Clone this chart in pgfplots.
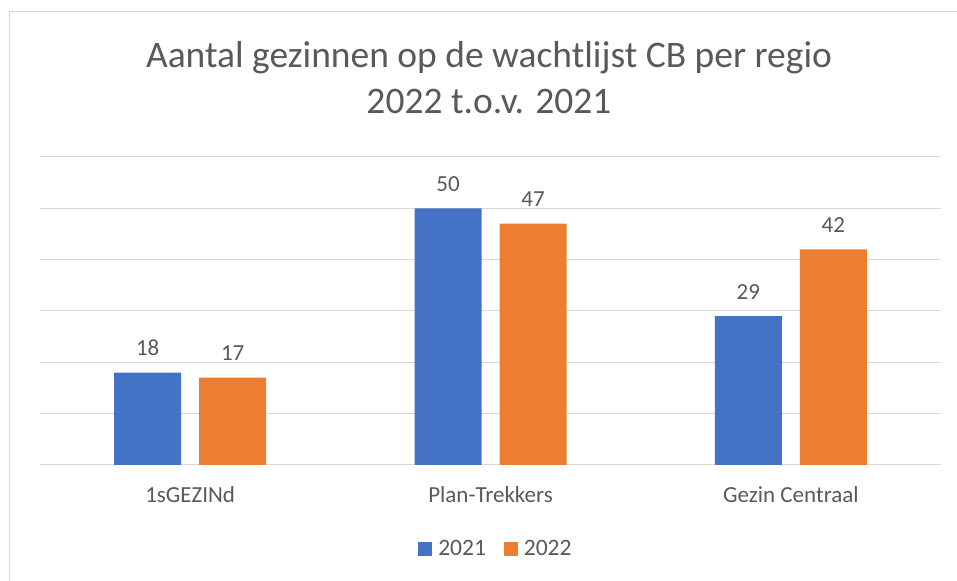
\documentclass[border=0pt]{standalone}
\usepackage{pgfplots}
\pgfplotsset{compat=1.18}
\usepackage{fontspec}
\setmainfont{Carlito}
\definecolor{txt}{HTML}{595959}
\definecolor{gridc}{HTML}{D9D9D9}
\definecolor{cblue}{HTML}{4472C4}
\definecolor{corange}{HTML}{ED7D31}
\begin{document}
\begin{tikzpicture}[x=1bp,y=1bp]
\useasboundingbox (0,0) rectangle (957,581);
\draw[gridc,line width=1bp] (9,569) -- (9,-20) (9,569) -- (990,569);
\node[txt,font=\fontsize{37.5bp}{40bp}\selectfont,anchor=base,inner sep=0pt] at (489,513) {Aantal gezinnen op de wachtlijst CB per regio};
\node[txt,font=\fontsize{37.5bp}{40bp}\selectfont,anchor=base,inner sep=0pt] at (489,467) {2022 t.o.v. 2021};
\begin{axis}[
  at={(40bp,116bp)}, anchor=south west,
  scale only axis, width=901bp, height=308bp,
  xmin=-0.5, xmax=2.5, ymin=0, ymax=60,
  ybar=18bp, bar width=67bp,
  axis line style={draw=none},
  ytick={0,10,20,30,40,50,60}, yticklabels={},
  xmajorgrids=false, ymajorgrids=true, grid style={gridc,line width=1bp},
  major tick length=0pt,
  xtick=data, xticklabels={1sGEZINd,Plan-Trekkers,Gezin Centraal},
  xticklabel style={txt,font=\fontsize{23bp}{26bp}\selectfont, anchor=base, yshift=-38bp, inner sep=0pt},
  nodes near coords,
  nodes near coords style={txt,font=\fontsize{23bp}{26bp}\selectfont, anchor=base, inner sep=0pt, yshift=17bp,
    /pgf/number format/assume math mode=true},
  legend style={at={(0.506,-0.273)}, anchor=center, legend columns=2, draw=none,
    font=\fontsize{23.5bp}{26bp}\selectfont, text=txt,
    /tikz/every odd column/.append style={column sep=4bp},
    /tikz/every even column/.append style={column sep=16bp}},
  legend image code/.code={\fill[#1] (0bp,-7bp) rectangle (14bp,7bp);},
]
\addplot[fill=cblue, draw=none] coordinates {(0,18) (1,50) (2,29)};
\addplot[fill=corange, draw=none] coordinates {(0,17) (1,47) (2,42)};
\legend{2021,2022}
\end{axis}
\end{tikzpicture}
\end{document}
